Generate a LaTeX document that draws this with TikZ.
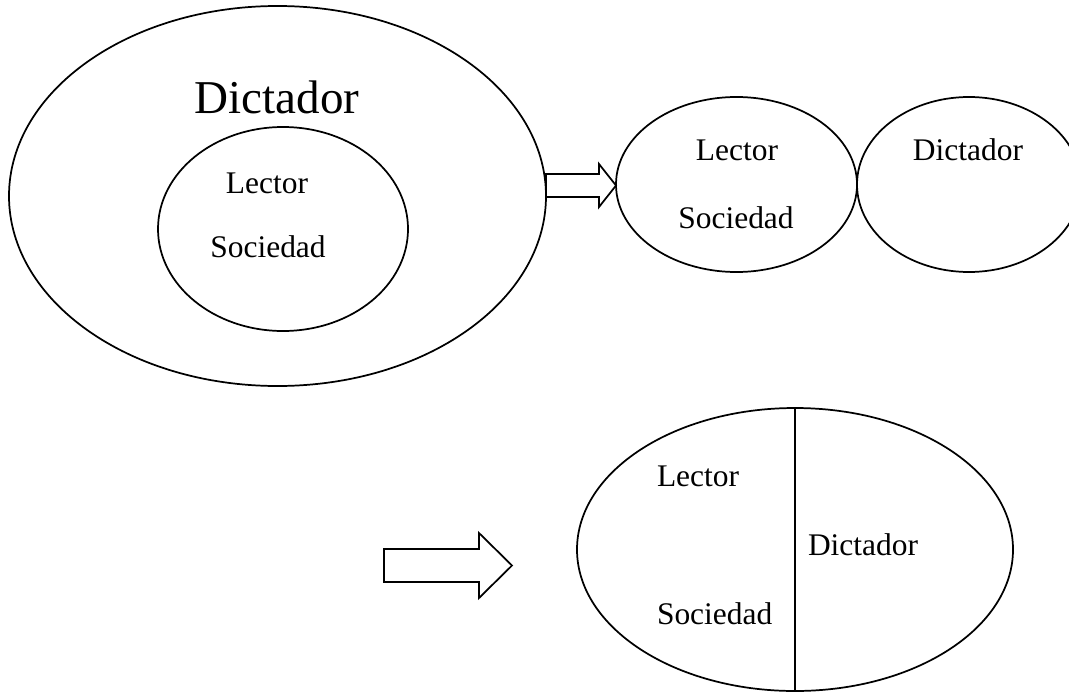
\documentclass[tikz,border=0pt]{standalone}
\usepackage{fontspec}
\setmainfont{Liberation Serif}
\usetikzlibrary{shapes.geometric}

\begin{document}
\begin{tikzpicture}[x=0.75pt, y=-0.75pt, line width=1.3pt,
  every node/.style={inner sep=0pt, outer sep=0pt},
  ovalo/.style={ellipse, draw},
  testo/.style={font=\fontsize{23.6}{28}\selectfont},
  titolo/.style={font=\fontsize{35.3}{42}\selectfont},
  freccia/.style={draw, line join=miter}]

\useasboundingbox (0,0) rectangle (1069,692);

% ovali
\node[ovalo, minimum width=402.75pt, minimum height=285pt] (out) at (277.5,196) {};
\node[ovalo, minimum width=187.5pt, minimum height=153pt] (in) at (283,229) {};
\node[ovalo, minimum width=180.75pt, minimum height=131.25pt] (sx) at (736.5,184.5) {};
\node[ovalo, minimum width=168pt, minimum height=131.25pt] (dx) at (969,184.5) {};
\node[ovalo, minimum width=327pt, minimum height=212.25pt] (bot) at (795,549.5) {};

% testi
\node[titolo, anchor=base] (d1) at (277,113) {Dictador};
\node[testo, anchor=base] (l1) at (267,193.5) {Lector};
\node[testo, anchor=base] (s1) at (268,257.5) {Sociedad};
\node[testo, anchor=base] (l2) at (737,160) {Lector};
\node[testo, anchor=base] (s2) at (736,228) {Sociedad};
\node[testo, anchor=base] (d2) at (968,160) {Dictador};
\node[testo, anchor=base west] (l3) at (657,486) {Lector};
\node[testo, anchor=base west] (d3) at (808,555) {Dictador};
\node[testo, anchor=base west] (s3) at (657,624) {Sociedad};

% divisione
\draw (bot.north) -- (bot.south);

% frecce
\coordinate (p1) at (546,185.5);
\coordinate (p2) at (384,565.5);
\draw[freccia] (p1) ++(0,-11.5) -- ++(53,0) -- ++(0,-10) -- ++(17,21.5) -- ++(-17,21.5) -- ++(0,-10) -- ++(-53,0) -- cycle;
\draw[freccia] (p2) ++(0,-16.5) -- ++(95,0) -- ++(0,-16) -- ++(33,32.5) -- ++(-33,32.5) -- ++(0,-16) -- ++(-95,0) -- cycle;

\end{tikzpicture}
\end{document}
